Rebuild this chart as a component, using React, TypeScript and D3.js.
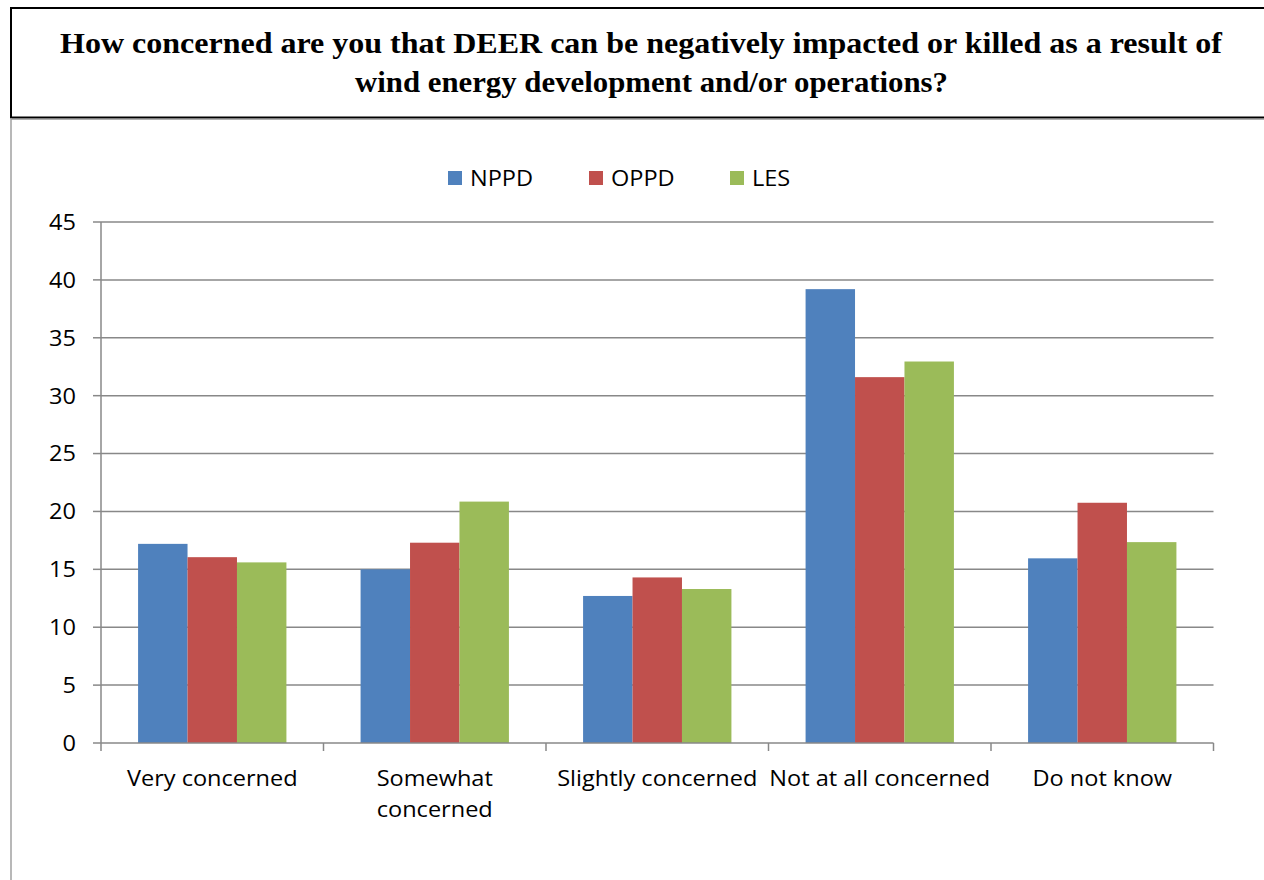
import React from "react";
import * as d3 from "d3";

const categories = ["Very concerned", "Somewhat concerned", "Slightly concerned", "Not at all concerned", "Do not know"];
const categoryLines = [["Very concerned"], ["Somewhat", "concerned"], ["Slightly concerned"], ["Not at all concerned"], ["Do not know"]];
const seriesNames = ["NPPD", "OPPD", "LES"];
const seriesColors = ["#4F81BD", "#C0504D", "#9BBB59"];
const NPPD = [17.2, 15.0, 12.7, 39.2, 15.95];
const OPPD = [16.05, 17.3, 14.3, 31.6, 20.75];
const LES = [15.6, 20.85, 13.3, 32.95, 17.35];
const yTicks = [0, 5, 10, 15, 20, 25, 30, 35, 40, 45];
const titleLines = [
  "How concerned are you that DEER can be negatively impacted or killed as a result of",
  "wind energy development and/or operations?",
];

const W = 1264;
const H = 880;
const plot = { left: 101, right: 1213.5, top: 222, bottom: 743 };
const labelFont = "'Open Sans', sans-serif";
const FS = 22;
const SX = 1.07;

function Label(props: { x: number; y: number; anchor?: string; children: React.ReactNode; dy?: string }) {
  return (
    <g transform={`translate(${props.x},${props.y}) scale(${SX},1)`}>
      <text
        x={0}
        y={0}
        dy={props.dy}
        textAnchor={props.anchor || "start"}
        fontFamily={labelFont}
        fontSize={FS}
        fill="#000"
      >
        {props.children}
      </text>
    </g>
  );
}

export default function App() {
  const series = [NPPD, OPPD, LES];
  const x0 = d3.scaleBand<string>().domain(categories).range([plot.left, plot.right]).paddingInner(0).paddingOuter(0);
  const barW = x0.bandwidth() / 4.5;
  const x1 = d3
    .scaleBand<string>()
    .domain(seriesNames)
    .range([0, barW * 3]);
  const y = d3.scaleLinear().domain([0, 45]).range([plot.bottom, plot.top]);
  const gridColor = "#888888";

  return (
    <svg width={W} height={H} style={{ position: "absolute", left: 0, top: 0, background: "#fff" }}>
      <rect x={0} y={0} width={W} height={H} fill="#fff" />
      {/* Title box */}
      <rect x={11} y={8} width={W + 10} height={109.5} fill="none" stroke="#000" strokeWidth={2} />
      <line x1={11} x2={W} y1={119.5} y2={119.5} stroke="#b0b0b0" strokeWidth={1} />
      <line x1={11} x2={11} y1={118} y2={H} stroke="#a0a0a0" strokeWidth={1.5} />
      {titleLines.map((t, i) => (
        <text
          key={i}
          x={i === 0 ? 60 : 355}
          y={i === 0 ? 53 : 92}
          textLength={i === 0 ? 1162 : 593}
          lengthAdjust="spacingAndGlyphs"
          fontFamily="'Liberation Serif', 'Times New Roman', serif"
          fontWeight="bold"
          fontSize={30}
          fill="#000"
        >
          {t}
        </text>
      ))}

      {/* Legend */}
      {seriesNames.map((s, i) => {
        const lx = [448, 589, 730][i];
        return (
          <g key={s}>
            <rect x={lx} y={171} width={14} height={14} fill={seriesColors[i]} />
            <Label x={lx + 22} y={186}>
              {s}
            </Label>
          </g>
        );
      })}

      {/* Gridlines and y ticks */}
      {yTicks.map((t) => (
        <g key={t}>
          {t > 0 && (
            <line x1={plot.left} x2={plot.right} y1={y(t)} y2={y(t)} stroke={gridColor} strokeWidth={1.5} />
          )}
          <line x1={93} x2={plot.left} y1={y(t)} y2={y(t)} stroke={gridColor} strokeWidth={1.5} />
          <Label x={76} y={y(t)} anchor="end" dy="0.36em">
            {t}
          </Label>
        </g>
      ))}

      {/* Bars */}
      {categories.map((c, ci) => (
        <g key={c}>
          {series.map((vals, si) => {
            const bx = (x0(c) as number) + (x0.bandwidth() - barW * 3) / 2 + (x1(seriesNames[si]) as number);
            return (
              <rect
                key={si}
                x={bx}
                y={y(vals[ci])}
                width={barW}
                height={y(0) - y(vals[ci])}
                fill={seriesColors[si]}
              />
            );
          })}
        </g>
      ))}

      {/* Axes */}
      <line x1={plot.left} x2={plot.left} y1={plot.top} y2={plot.bottom} stroke={gridColor} strokeWidth={1.5} />
      <line x1={plot.left} x2={plot.right} y1={plot.bottom} y2={plot.bottom} stroke={gridColor} strokeWidth={1.5} />
      {categories.map((c, i) => (
        <line
          key={"t" + i}
          x1={x0(c) as number}
          x2={x0(c) as number}
          y1={plot.bottom}
          y2={plot.bottom + 8}
          stroke={gridColor}
          strokeWidth={1.5}
        />
      ))}
      <line x1={plot.right} x2={plot.right} y1={plot.bottom} y2={plot.bottom + 8} stroke={gridColor} strokeWidth={1.5} />

      {/* Category labels */}
      {categories.map((c, i) =>
        categoryLines[i].map((ln, k) => (
          <Label key={"l" + i + "-" + k} x={(x0(c) as number) + x0.bandwidth() / 2} y={786 + k * 31} anchor="middle">
            {ln}
          </Label>
        ))
      )}
    </svg>
  );
}
